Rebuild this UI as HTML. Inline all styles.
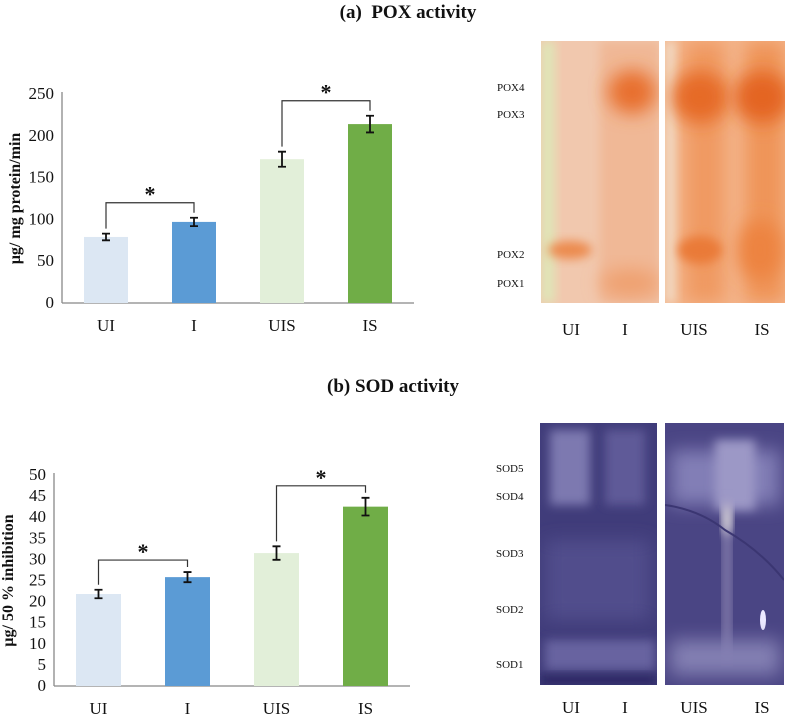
<!DOCTYPE html>
<html><head><meta charset="utf-8"><style>
html,body{margin:0;padding:0;background:#fff;width:795px;height:719px;overflow:hidden}
svg{display:block}
text{font-family:"Liberation Serif",serif;fill:#111}
</style></head><body>
<svg id="fig" width="795" height="719" viewBox="0 0 795 719">
<defs>
<filter id="blur4" x="-50%" y="-50%" width="200%" height="200%"><feGaussianBlur stdDeviation="5"/></filter>
<filter id="blur8" x="-50%" y="-50%" width="200%" height="200%"><feGaussianBlur stdDeviation="9"/></filter>
<clipPath id="cp1"><rect x="541" y="41" width="118" height="262"/></clipPath>
<clipPath id="cp2"><rect x="665" y="41" width="120" height="262"/></clipPath>
<clipPath id="cs1"><rect x="540" y="423" width="117" height="262"/></clipPath>
<clipPath id="cs2"><rect x="665" y="423" width="119" height="262"/></clipPath>
</defs>
<text x="408" y="18" font-size="19" font-weight="bold" text-anchor="middle">(a)&#160;&#160;POX activity</text>
<text x="393" y="392" font-size="19" font-weight="bold" text-anchor="middle">(b) SOD activity</text>
<g id="chartA"></g>
<g id="chartB"></g>

<!-- POX gel -->
<g>
 <g clip-path="url(#cp1)">
  <rect x="541" y="41" width="118" height="262" fill="#f1c8ae"/>
  <rect x="541" y="41" width="14" height="262" fill="#dfe6b8" filter="url(#blur4)"/>
  <rect x="600" y="41" width="60" height="262" fill="#f0b896" filter="url(#blur4)"/>
  <ellipse cx="632" cy="92" rx="24" ry="22" fill="#e8702f" filter="url(#blur8)"/>
  <ellipse cx="570" cy="250" rx="22" ry="9" fill="#ec8a4e" filter="url(#blur4)"/>
  <ellipse cx="630" cy="283" rx="30" ry="14" fill="#efa070" filter="url(#blur8)"/>
 </g>
 <g clip-path="url(#cp2)">
  <rect x="665" y="41" width="120" height="262" fill="#f3b58c"/>
  <rect x="665" y="41" width="12" height="262" fill="#f2dcc6" filter="url(#blur4)"/>
  <rect x="685" y="41" width="40" height="262" fill="#f09a62" filter="url(#blur8)"/>
  <rect x="745" y="41" width="40" height="262" fill="#ef9458" filter="url(#blur8)"/>
  <ellipse cx="700" cy="97" rx="28" ry="26" fill="#e66a25" filter="url(#blur8)"/>
  <ellipse cx="762" cy="97" rx="28" ry="26" fill="#e46522" filter="url(#blur8)"/>
  <ellipse cx="700" cy="250" rx="22" ry="14" fill="#ea7a38" filter="url(#blur4)"/>
  <ellipse cx="760" cy="250" rx="22" ry="30" fill="#ed833f" filter="url(#blur8)"/>
 </g>
 <text x="497" y="91" font-size="11">POX4</text>
 <text x="497" y="118" font-size="11">POX3</text>
 <text x="497" y="258" font-size="11">POX2</text>
 <text x="497" y="287" font-size="11">POX1</text>
 <text x="571" y="335" font-size="17" text-anchor="middle">UI</text>
 <text x="625" y="335" font-size="17" text-anchor="middle">I</text>
 <text x="694" y="335" font-size="17" text-anchor="middle">UIS</text>
 <text x="762" y="335" font-size="17" text-anchor="middle">IS</text>
</g>

<!-- SOD gel -->
<g>
 <g clip-path="url(#cs1)">
  <rect x="540" y="423" width="117" height="262" fill="#403c7a"/>
  <rect x="550" y="430" width="40" height="75" fill="#7d79b0" filter="url(#blur4)"/>
  <rect x="605" y="430" width="40" height="75" fill="#5e5a98" filter="url(#blur4)"/>
  <rect x="545" y="540" width="105" height="80" fill="#514d8c" filter="url(#blur8)"/>
  <rect x="545" y="640" width="110" height="30" fill="#6864a0" filter="url(#blur4)"/>
  <rect x="540" y="675" width="117" height="10" fill="#2a2662" filter="url(#blur4)"/>
 </g>
 <g clip-path="url(#cs2)">
  <rect x="665" y="423" width="119" height="262" fill="#4a4584"/>
  <rect x="670" y="450" width="110" height="55" fill="#827eb6" filter="url(#blur8)"/>
  <rect x="715" y="440" width="40" height="70" fill="#9c98c6" filter="url(#blur4)"/>
  <rect x="724" y="500" width="6" height="160" fill="#a098c0" filter="url(#blur4)"/>
  <ellipse cx="727" cy="520" rx="4" ry="15" fill="#f2eee8" filter="url(#blur4)"/>
  <ellipse cx="763" cy="620" rx="3" ry="10" fill="#ece9ff"/>
  <rect x="670" y="640" width="110" height="35" fill="#837fb2" filter="url(#blur8)"/>
  <path d="M665,505 Q700,510 725,530 Q760,550 784,580" stroke="#3b3672" stroke-width="2" fill="none"/>
 </g>
 <text x="496" y="472" font-size="11">SOD5</text>
 <text x="496" y="500" font-size="11">SOD4</text>
 <text x="496" y="557" font-size="11">SOD3</text>
 <text x="496" y="613" font-size="11">SOD2</text>
 <text x="496" y="668" font-size="11">SOD1</text>
 <text x="571" y="713" font-size="17" text-anchor="middle">UI</text>
 <text x="625" y="713" font-size="17" text-anchor="middle">I</text>
 <text x="694" y="713" font-size="17" text-anchor="middle">UIS</text>
 <text x="762" y="713" font-size="17" text-anchor="middle">IS</text>
</g>
</svg>
<script>
const categories = ["UI","I","UIS","IS"];
const colors = ["#dce7f3","#5b9bd5","#e2efd9","#70ad47"];
const poxValues = [79, 97, 172, 214];
const poxErrors = [4, 5, 9, 10];
const poxTicks = [0,50,100,150,200,250];
const sodValues = [21.8, 25.8, 31.5, 42.5];
const sodErrors = [1, 1.2, 1.6, 2.1];
const sodTicks = [0,5,10,15,20,25,30,35,40,45,50];
const NS = "http://www.w3.org/2000/svg";
function mk(parent, tag, attrs){const e=document.createElementNS(NS,tag);for(const k in attrs)e.setAttribute(k,attrs[k]);parent.appendChild(e);return e;}
function draw(g, cfg){
  const y = v => cfg.y0 - (v - 0) / cfg.max * (cfg.y0 - cfg.yTop);
  const xc = i => cfg.x0 + cfg.step * (i + 0.5);
  const ax = mk(g,"line",{x1:cfg.axisX,y1:cfg.yTop-2,x2:cfg.axisX,y2:cfg.y0,stroke:"#888","stroke-width":1.3});
  
  
  const bx = mk(g,"line",{x1:cfg.axisX,y1:cfg.y0,x2:cfg.axisX+cfg.step*4,y2:cfg.y0,stroke:"#888","stroke-width":1.3});
  
  
  cfg.ticks.forEach(t=>{
    const tx = mk(g,"text",{x:cfg.axisX-8,y:y(t)+5,"font-size":cfg.tickFs,"text-anchor":"end"});
    tx.textContent = t;
    
    
  });
  cfg.values.forEach((v,i)=>{
    const r = mk(g,"rect",{x:xc(i)-cfg.bw/2,y:y(v),width:cfg.bw,height:cfg.y0-y(v),fill:colors[i]});
    
    
    const e = cfg.errors[i], top=y(v+e), bot=y(v-e), cx=xc(i);
    const eb = mk(g,"path",{d:`M${cx-4},${top}H${cx+4}M${cx},${top}V${bot}M${cx-4},${bot}H${cx+4}`,stroke:"#111","stroke-width":1.8,fill:"none"});
    
    
    const lb = mk(g,"text",{x:cx,y:cfg.y0+cfg.labOff,"font-size":17,"text-anchor":"middle"});
    lb.textContent = categories[i];
    
    
  });
  cfg.pairs.forEach(p=>{
    const [a,b]=p; const la=y(cfg.values[a]+cfg.errors[a])-5, lb2=y(cfg.values[b]+cfg.errors[b])-5;
    const by = Math.min(la,lb2)-p[2];
    const br = mk(g,"path",{d:`M${xc(a)},${la}V${by}H${xc(b)}V${lb2}`,stroke:"#333","stroke-width":1.2,fill:"none"});
    
    
    const st = mk(g,"text",{x:(xc(a)+xc(b))/2,y:by-1,"font-size":22,"font-weight":"bold","text-anchor":"middle"});
    st.textContent="*";
    
    
  });
  const yt = mk(g,"text",{x:0,y:0,"font-size":cfg.titleFs,"font-weight":"bold","text-anchor":"middle",transform:`translate(${cfg.titleX},${(cfg.y0+cfg.yTop)/2}) rotate(-90)`});
  yt.textContent = cfg.title;
  
  
}
draw(document.getElementById('chartA'),{values:poxValues,errors:poxErrors,ticks:poxTicks,max:250,y0:303,yTop:94,axisX:62,x0:62,step:88,bw:44,tickFs:17,labOff:28,titleX:20,titleFs:16,title:"µg/ mg protein/min",pairs:[[0,1,10],[2,3,10]]});
draw(document.getElementById('chartB'),{values:sodValues,errors:sodErrors,ticks:sodTicks,max:50,y0:686,yTop:475,axisX:54,x0:54,step:89,bw:45,tickFs:17,labOff:28,titleX:13,titleFs:16,title:"µg/ 50 % inhibition",pairs:[[0,1,7],[2,3,7]]});
</script>
</body></html>
